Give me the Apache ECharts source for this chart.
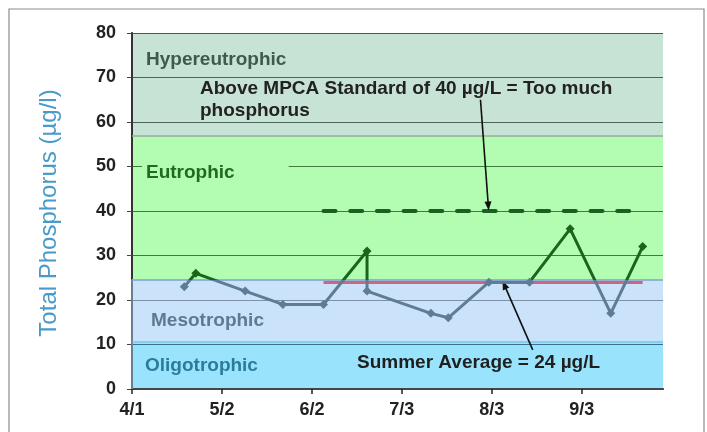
<!DOCTYPE html>
<html>
<head>
<meta charset="utf-8">
<script src="https://cdn.jsdelivr.net/npm/echarts@6/dist/echarts.min.js"></script>
<style>html,body{margin:0;padding:0;background:#fff;}#chart{width:707px;height:432px;}</style>
</head>
<body>
<div id="chart"></div>
<script>
// ---- data ----
const sampleDates = ['4/19','4/23','5/10','5/23','6/6','6/21','6/21','7/13','7/19','8/2','8/16','8/30','9/13','9/24'];
const phosphorus  = [23, 26, 22, 19, 19, 31, 22, 17, 16, 24, 24, 36, 17, 32];
const tickDates   = ['4/1','5/2','6/2','7/3','8/3','9/3'];
const axisStart = '4/1';
const axisEnd   = '10/1';
const standardValue = 40;
const summerAverage = 24;
const standardSpan = ['6/6', '9/24'];
const averageSpan  = ['6/6', '9/24'];
const trophicNames  = ['Oligotrophic', 'Mesotrophic', 'Eutrophic', 'Hypereutrophic'];
const trophicBounds = [0, 10.7, 24.6, 57, 80];
// annotation arrows (day offset from 4/1, value)
const arrowStandard = [[120.1, 65.0], [122.8, 41.1]];
const arrowAverage  = [[138.1, 8.8], [128.3, 23.4]];

// ---- helpers ----
function dayOf(md) {
  const p = md.split('/');
  const s = axisStart.split('/');
  return Math.round((Date.UTC(2009, +p[0] - 1, +p[1]) - Date.UTC(2009, +s[0] - 1, +s[1])) / 86400000);
}
const tickDays = tickDates.map(dayOf);
const labelMap = {};
tickDays.forEach((d, i) => { labelMap[d] = tickDates[i]; });
const seriesData = sampleDates.map((d, i) => [dayOf(d), phosphorus[i]]);

const FONT = '"Liberation Sans", Arial, sans-serif';
const GREY = '#5f7b96';
const GREEN = '#17661b';
const bandColors = ['#9ae3fd', '#cbe3fa', '#b2fdb2', '#c7e3d5'];
const gridColors = ['#333', '#3a7088', '#7f91a6', '#3f7b3f', '#3f7b3f', '#3f7b3f', '#4d6659', '#4d6659', '#555'];

const chart = echarts.init(document.getElementById('chart'), null, {renderer: 'canvas'});

const bandAreas = trophicNames.map((n, i) => [
  {yAxis: trophicBounds[i], itemStyle: {color: bandColors[i]}},
  {yAxis: trophicBounds[i + 1]}
]);

const option = {
  animation: false,
  backgroundColor: '#fff',
  grid: {left: 132, right: 44, top: 33, bottom: 43},
  xAxis: [{
    type: 'value', min: 0, max: dayOf(axisEnd), interval: 31, z: 3,
    axisLine: {lineStyle: {color: '#1a1a1a', width: 2}},
    axisTick: {customValues: tickDays, length: 5, lineStyle: {color: '#222', width: 1.5}},
    axisLabel: {customValues: tickDays, formatter: v => labelMap[v] || '', margin: 12,
      fontFamily: FONT, fontSize: 18, fontWeight: 'bold', color: '#222'},
    splitLine: {show: false}
  }, {
    type: 'value', min: 0, max: dayOf(axisEnd), position: 'top', z: 3,
    axisLine: {lineStyle: {color: '#555', width: 1.5}},
    axisTick: {show: false}, axisLabel: {show: false}, splitLine: {show: false}
  }],
  yAxis: [{
    type: 'value', min: 0, max: 80, interval: 10, z: 3,
    axisLine: {show: true, lineStyle: {color: '#2b5c2b', width: 1.5}},
    axisTick: {show: true, length: 5, lineStyle: {color: '#444', width: 1}},
    axisLabel: {margin: 16, fontFamily: FONT, fontSize: 18, fontWeight: 'bold', color: '#222'},
    splitLine: {show: true, lineStyle: {color: gridColors, width: 1.2}}
  }, {
    type: 'value', min: 0, max: 80, position: 'right', z: 3,
    axisLine: {show: true, lineStyle: {color: '#333', width: 2}},
    axisTick: {show: false}, axisLabel: {show: false}, splitLine: {show: false}
  }],
  visualMap: {
    show: false, type: 'piecewise', seriesIndex: 1, dimension: 1,
    pieces: [
      {gte: trophicBounds[0], lte: trophicBounds[2], color: GREY},
      {gt: trophicBounds[2], lte: trophicBounds[4], color: GREEN}
    ]
  },
  series: [
    {
      type: 'line', data: [], z: 1, silent: true,
      markArea: {silent: true, data: bandAreas},
      markLine: {
        silent: true, symbol: 'none', label: {show: false},
        data: [
          {yAxis: trophicBounds[1], lineStyle: {color: '#7fd0f2', width: 2, type: 'solid'}},
          {yAxis: trophicBounds[2], lineStyle: {color: '#8fb2d6', width: 2, type: 'solid'}},
          {yAxis: trophicBounds[3], lineStyle: {color: '#94aa96', width: 1.5, type: 'solid'}}
        ]
      }
    },
    {
      type: 'line', data: seriesData, z: 5,
      symbol: 'diamond', symbolSize: 9, showSymbol: true,
      lineStyle: {width: 3}
    },
    {
      type: 'line', z: 4, symbol: 'none',
      data: standardSpan.map(d => [dayOf(d), standardValue]),
      lineStyle: {color: '#1d5e22', width: 4, type: [12, 14.7], cap: 'round'}
    },
    {
      type: 'line', z: 4, symbol: 'none',
      data: averageSpan.map(d => [dayOf(d), summerAverage]),
      lineStyle: {color: '#d06580', width: 3.5}
    },
    {
      type: 'line', z: 4, symbol: 'none', data: [],
      markLine: {
        silent: true, symbol: 'none', label: {show: false},
        lineStyle: {color: '#7d97b6', width: 1.5, type: 'solid'},
        data: [[{coord: [0, trophicBounds[0]]}, {coord: [0, trophicBounds[2]]}]]
      }
    },
    {
      type: 'line', z: 6, symbol: 'none', data: [],
      markLine: {
        silent: true, symbol: ['none', 'triangle'], symbolSize: [7, 9], label: {show: false},
        lineStyle: {color: '#111', width: 1.6, type: 'solid'},
        itemStyle: {color: '#111'},
        data: [
          [{coord: arrowStandard[0]}, {coord: arrowStandard[1]}],
          [{coord: arrowAverage[0]}, {coord: arrowAverage[1]}]
        ]
      }
    }
  ],
  graphic: [
    {type: 'rect', silent: true, z: 100, shape: {x: 9, y: 9, width: 695, height: 440},
      style: {fill: 'none', stroke: '#8c8c8c', lineWidth: 1.2}},
    {type: 'text', z: 100, x: 49, y: 213, rotation: Math.PI / 2,
      style: {text: 'Total Phosphorus (µg/l)', font: 'normal 24px ' + FONT, fill: '#4a9ac9',
        textAlign: 'center', textVerticalAlign: 'middle'}},
    {type: 'text', z: 100, x: 146, y: 60,
      style: {text: 'Hypereutrophic', font: 'bold 19px ' + FONT, fill: '#3d5b4d', textAlign: 'left', textVerticalAlign: 'middle'}},
    {type: 'text', z: 100, x: 200, y: 89,
      style: {text: 'Above MPCA Standard of 40 µg/L = Too much', font: 'bold 19px ' + FONT, fill: '#222', textAlign: 'left', textVerticalAlign: 'middle'}},
    {type: 'text', z: 100, x: 200, y: 111,
      style: {text: 'phosphorus', font: 'bold 19px ' + FONT, fill: '#222', textAlign: 'left', textVerticalAlign: 'middle'}},
    {type: 'text', z: 100, x: 142, y: 173,
      style: {text: 'Eutrophic', font: 'bold 19px ' + FONT, fill: '#1e6a1e', textAlign: 'left', textVerticalAlign: 'middle',
        backgroundColor: '#b2fdb2', padding: [3, 54, 3, 4]}},
    {type: 'text', z: 100, x: 151, y: 321,
      style: {text: 'Mesotrophic', font: 'bold 19px ' + FONT, fill: '#5f7894', textAlign: 'left', textVerticalAlign: 'middle'}},
    {type: 'text', z: 100, x: 145, y: 366,
      style: {text: 'Oligotrophic', font: 'bold 19px ' + FONT, fill: '#2b7c9b', textAlign: 'left', textVerticalAlign: 'middle'}},
    {type: 'text', z: 100, x: 357, y: 363,
      style: {text: 'Summer Average = 24 µg/L', font: 'bold 19px ' + FONT, fill: '#1f1f1f', textAlign: 'left', textVerticalAlign: 'middle'}}
  ]
};
chart.setOption(option);
</script>
</body>
</html>
